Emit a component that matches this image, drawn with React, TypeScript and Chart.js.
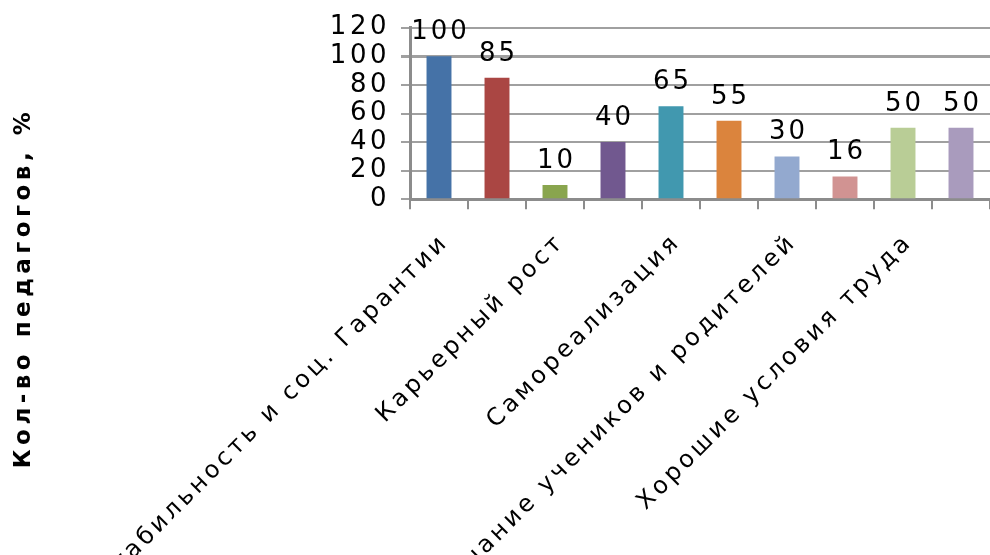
import { useEffect, useRef } from 'react';
import { Chart, registerables } from 'chart.js';

Chart.register(...registerables);

const categories = [
  'Стабильность и соц. Гарантии',
  'Заработная плата',
  'Карьерный рост',
  'Престиж профессии',
  'Самореализация',
  'Любовь к детям',
  'Признание учеников и родителей',
  'Творческий характер труда',
  'Хорошие условия труда',
  'Длительный отпуск',
];
const values = [100, 85, 10, 40, 65, 55, 30, 16, 50, 50];
const barColors = [
  '#4572A7', '#AA4643', '#89A54E', '#71588F', '#4198AF',
  '#DB843D', '#93A9CF', '#D19392', '#B9CD96', '#A99BBD',
];
const yMin = 0;
const yMax = 120;
const yStep = 20;
const yTitle = 'Кол-во педагогов, %';

const labelPlugin = {
  id: 'labelsAndTitle',
  beforeDraw(chart: any) {
    chart.ctx.letterSpacing = '3.5px';
  },
  afterDatasetsDraw(chart: any) {
    const ctx = chart.ctx;
    ctx.save();
    ctx.letterSpacing = '3px';
    ctx.font = '26px "DejaVu Sans"';
    ctx.fillStyle = '#000';
    ctx.textAlign = 'center';
    ctx.textBaseline = 'alphabetic';
    const meta = chart.getDatasetMeta(0);
    meta.data.forEach((bar: any, i: number) => {
      ctx.fillText(String(values[i]), bar.x + 1.5, bar.y - 17);
    });
    ctx.restore();

    ctx.save();
    ctx.letterSpacing = '4.5px';
    ctx.font = 'bold 23px "DejaVu Sans"';
    ctx.fillStyle = '#000';
    ctx.textAlign = 'center';
    ctx.textBaseline = 'middle';
    ctx.translate(24, 288);
    ctx.rotate(-Math.PI / 2);
    ctx.fillText(yTitle, 0, 0);
    ctx.restore();
  },
  afterDraw(chart: any) {
    chart.ctx.letterSpacing = '0px';
  },
};

export default function App() {
  const ref = useRef<HTMLCanvasElement | null>(null);
  useEffect(() => {
    if (!ref.current) return;
    const chart = new Chart(ref.current, {
      type: 'bar',
      data: {
        labels: categories,
        datasets: [
          {
            data: values,
            backgroundColor: barColors,
            borderWidth: 0,
            barPercentage: 0.43,
            categoryPercentage: 1,
          },
        ],
      },
      options: {
        animation: false,
        responsive: true,
        maintainAspectRatio: false,
        layout: { padding: { top: 27.7, left: 0, right: 0, bottom: 0 } },
        plugins: {
          legend: { display: false },
          tooltip: { enabled: false },
        },
        scales: {
          x: {
            grid: {
              drawOnChartArea: false,
              drawTicks: true,
              tickLength: 10,
              color: '#8c8c8c',
              lineWidth: 2,
            },
            border: { color: '#8c8c8c', width: 3 },
            ticks: {
              autoSkip: false,
              minRotation: 45,
              maxRotation: 45,
              padding: 19,
              labelOffset: 6,
              color: '#000',
              font: { family: '"DejaVu Sans"', size: 24 },
              callback: (_v: any, i: number) => (i % 2 === 0 ? categories[i] : ''),
            },
            afterFit: (scale: any) => {
              scale.height = 555 - 199.3;
              scale.paddingLeft = 0;
              scale.paddingRight = 0;
            },
          },
          y: {
            min: yMin,
            max: yMax,
            ticks: {
              stepSize: yStep,
              autoSkip: false,
              padding: 11,
              color: '#000',
              font: { family: '"DejaVu Sans"', size: 26 },
            },
            grid: {
              drawOnChartArea: true,
              tickLength: 9,
              color: '#a0a0a0',
              lineWidth: (c: any) => (c.tick && c.tick.value === 100 ? 3 : 2),
            },
            border: { color: '#8c8c8c', width: 3 },
            afterFit: (scale: any) => {
              scale.width = 410;
              scale.paddingTop = 0;
              scale.paddingBottom = 0;
            },
          },
        },
      },
      plugins: [labelPlugin],
    });
    return () => chart.destroy();
  }, []);
  return (
    <div style={{ position: 'fixed', left: 0, top: 0, width: 990, height: 555, background: '#fff' }}>
      <canvas ref={ref} />
    </div>
  );
}
